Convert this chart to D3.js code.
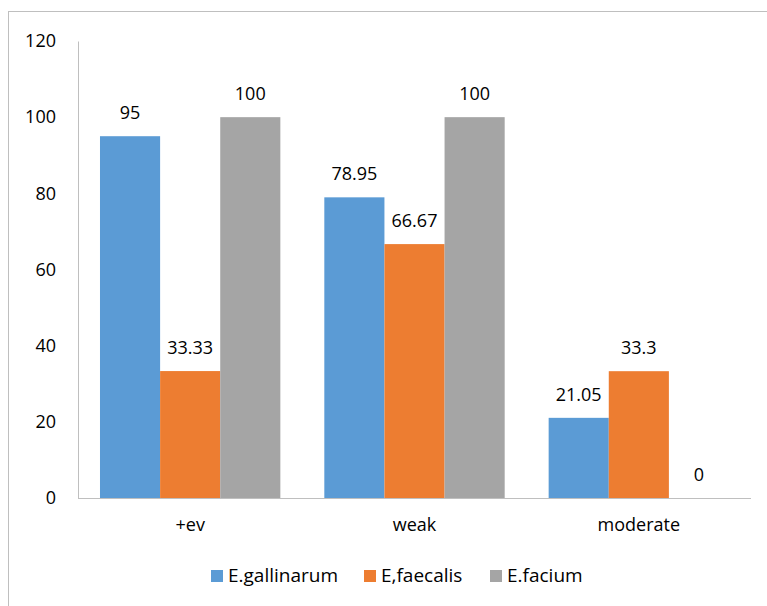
<!DOCTYPE html>
<html>
<head>
<meta charset="utf-8">
<script src="https://cdn.jsdelivr.net/npm/d3@7"></script>
<style>
  html, body { margin: 0; padding: 0; background: #fff; }
  svg { display: block; }
  text { font-family: "Open Sans", Lato, sans-serif; fill: #000; }
</style>
</head>
<body>
<svg id="chart" width="767" height="606"></svg>
<script>
// Prevalence by intensity category, per species
const categories = ["+ev", "weak", "moderate"];
const seriesNames = ["E.gallinarum", "E,faecalis", "E.facium"];
const gallinarum = [95, 78.95, 21.05];
const faecalis = [33.33, 66.67, 33.3];
const facium = [100, 100, 0];
const yTicks = [0, 20, 40, 60, 80, 100, 120];
const colors = ["#5B9BD5", "#ED7D31", "#A5A5A5"];

const seriesValues = [gallinarum, faecalis, facium];
const FONT = "18px";
const LEGEND_FONT = "19px";

const svg = d3.select("#chart");

// outer chart frame
svg.append("rect")
  .attr("x", 8.5).attr("y", 11.5)
  .attr("width", 900).attr("height", 900)
  .attr("fill", "none").attr("stroke", "#bfbfbf").attr("stroke-width", 1);

const plot = { left: 78, right: 751, top: 41, bottom: 498 };

const y = d3.scaleLinear().domain([0, 120]).range([plot.bottom, plot.top]);
const x0 = d3.scaleBand().domain(categories).range([plot.left, plot.right]).paddingInner(0.196).paddingOuter(0.098);
const x1 = d3.scaleBand().domain(seriesNames).range([0, x0.bandwidth()]);

// y axis labels and line
const yAxis = d3.axisLeft(y).tickValues(yTicks).tickSize(0).tickPadding(22);
const gy = svg.append("g").attr("transform", `translate(${plot.left},0)`).call(yAxis);
gy.select(".domain").attr("stroke", "#bfbfbf");
gy.selectAll("text").style("font-size", FONT).style("font-family", "'Open Sans', sans-serif").attr("fill", "#000");

// bars
const groups = svg.append("g").selectAll("g")
  .data(categories)
  .join("g")
  .attr("transform", d => `translate(${x0(d)},0)`);

groups.selectAll("rect")
  .data((c, i) => seriesNames.map((s, k) => ({ s, k, v: seriesValues[k][i] })))
  .join("rect")
  .attr("x", d => x1(d.s))
  .attr("y", d => y(d.v))
  .attr("width", x1.bandwidth())
  .attr("height", d => plot.bottom - y(d.v))
  .attr("fill", d => colors[d.k]);

// value labels above each bar
groups.selectAll("text.val")
  .data((c, i) => seriesNames.map((s, k) => ({ s, k, v: seriesValues[k][i] })))
  .join("text")
  .attr("class", "val")
  .attr("x", d => x1(d.s) + x1.bandwidth() / 2)
  .attr("y", d => y(d.v) - 17)
  .attr("text-anchor", "middle")
  .style("font-size", FONT)
  .text(d => d.v);

// x axis
const xAxis = d3.axisBottom(x0).tickSize(0).tickPadding(20);
const gx = svg.append("g").attr("transform", `translate(0,${plot.bottom})`).call(xAxis);
gx.select(".domain").attr("stroke", "#bfbfbf").attr("d", `M${plot.left},0.5H${plot.right}`);
gx.selectAll("text").style("font-size", FONT).style("font-family", "'Open Sans', sans-serif").attr("fill", "#000");

// legend
const legendX = [211, 364, 490];
const legend = svg.append("g").selectAll("g")
  .data(seriesNames)
  .join("g")
  .attr("transform", (d, i) => `translate(${legendX[i]},570)`);
legend.append("rect").attr("width", 12).attr("height", 12).attr("fill", (d, i) => colors[i]);
legend.append("text")
  .attr("x", 17).attr("y", 12)
  .style("font-size", LEGEND_FONT)
  .text(d => d);
</script>
</body>
</html>
